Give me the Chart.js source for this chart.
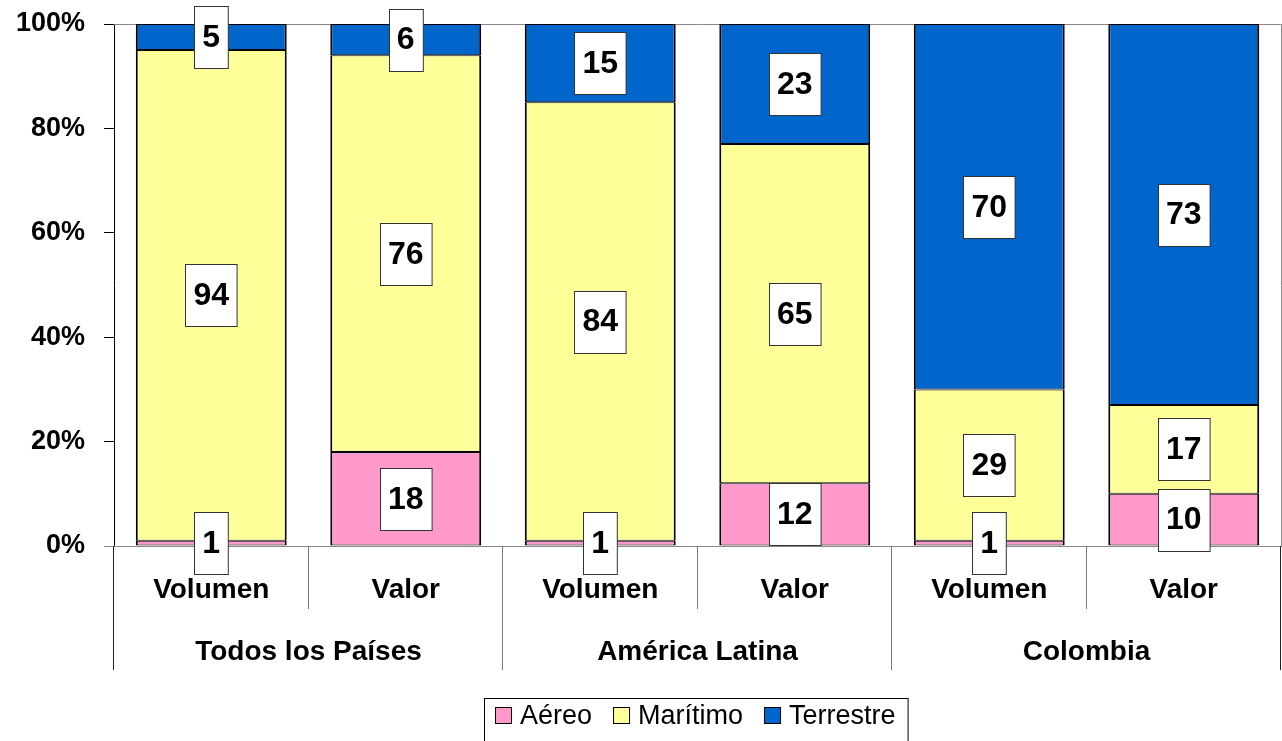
<!DOCTYPE html>
<html>
<head>
<meta charset="utf-8">
<script src="https://cdn.jsdelivr.net/npm/chart.js@4/dist/chart.umd.min.js"></script>
<style>
  html, body { margin: 0; padding: 0; background: #fff; }
</style>
</head>
<body>
<canvas id="chart" width="1282" height="741"></canvas>
<script>
// data
var categories = ['Volumen', 'Valor', 'Volumen', 'Valor', 'Volumen', 'Valor'];
var groups = ['Todos los Países', 'América Latina', 'Colombia'];
var aereo = [1, 18, 1, 12, 1, 10];
var maritimo = [94, 76, 84, 65, 29, 17];
var terrestre = [5, 6, 15, 23, 70, 73];
var yTicks = [0, 20, 40, 60, 80, 100];

var FONT = "'Liberation Sans', Arial, sans-serif";

// white boxes with the value in the middle of each segment
var valueLabels = {
  id: 'valueLabels',
  afterDatasetsDraw: function(chart) {
    var ctx = chart.ctx;
    ctx.save();
    ctx.font = 'bold 32px ' + FONT;
    ctx.textAlign = 'center';
    ctx.textBaseline = 'middle';
    chart.data.datasets.forEach(function(ds, di) {
      var meta = chart.getDatasetMeta(di);
      meta.data.forEach(function(bar, i) {
        var txt = String(ds.data[i]);
        var cy = (bar.y + bar.base) / 2;
        var w = ctx.measureText(txt).width + 16;
        var h = 62;
        var x0 = Math.round(bar.x - w / 2) + 0.5;
        var y0 = Math.round(cy - h / 2) + 0.5;
        ctx.fillStyle = '#fff';
        ctx.fillRect(x0, y0, w, h);
        ctx.strokeStyle = '#333';
        ctx.lineWidth = 1;
        ctx.strokeRect(x0, y0, w, h);
        ctx.fillStyle = '#000';
        ctx.fillText(txt, bar.x, cy + 1);
      });
    });
    ctx.restore();
  }
};

// plot border, two-level category axis and framed legend
var frame = {
  id: 'frame',
  beforeDatasetsDraw: function(chart) {
    var a = chart.chartArea;
    var ctx = chart.ctx;
    ctx.save();
    ctx.strokeStyle = '#888';
    ctx.lineWidth = 1;
    ctx.beginPath();
    ctx.moveTo(a.left, a.top + 0.5);
    ctx.lineTo(a.right + 0.5, a.top + 0.5);
    ctx.lineTo(a.right + 0.5, a.bottom + 0.5);
    ctx.lineTo(a.left - 10, a.bottom + 0.5);
    ctx.stroke();
    ctx.restore();
  },
  afterDraw: function(chart) {
    var ctx = chart.ctx;
    var xs = chart.scales.x;
    var a = chart.chartArea;
    var n = categories.length;
    var w = (xs.right - xs.left) / n;
    ctx.save();
    // separators
    for (var i = 0; i <= n; i++) {
      var x = Math.round(xs.left + i * w) - 0.5;
      var isGroup = i % 2 === 0;
      ctx.strokeStyle = (i === 0 || i === n) ? '#222' : '#777';
      ctx.lineWidth = 1;
      ctx.beginPath();
      ctx.moveTo(x, a.bottom);
      ctx.lineTo(x, isGroup ? 670 : 609);
      ctx.stroke();
    }
    ctx.fillStyle = '#000';
    ctx.textAlign = 'center';
    ctx.textBaseline = 'middle';
    ctx.font = 'bold 28px ' + FONT;
    categories.forEach(function(c, i) {
      ctx.fillText(c, xs.getPixelForValue(i), 590);
    });
    groups.forEach(function(g, gi) {
      var cx = (xs.getPixelForValue(gi * 2) + xs.getPixelForValue(gi * 2 + 1)) / 2;
      ctx.fillText(g, cx, 652);
    });

    // legend
    ctx.font = '27px ' + FONT;
    ctx.textAlign = 'left';
    var items = chart.data.datasets;
    var box = 16, gapText = 9, gapItem = 21;
    var total = 0;
    items.forEach(function(ds, i) {
      total += box + gapText + ctx.measureText(ds.label).width;
      if (i < items.length - 1) total += gapItem;
    });
    var lx = Math.round(695 - total / 2);
    ctx.strokeStyle = '#000';
    ctx.strokeRect(lx - 10.5, 698.5, total + 23, 60);
    var ly = 716;
    items.forEach(function(ds) {
      ctx.fillStyle = ds.backgroundColor;
      ctx.fillRect(lx + 0.5, ly - 8.5, box, box);
      ctx.strokeStyle = '#000';
      ctx.strokeRect(lx + 0.5, ly - 8.5, box, box);
      ctx.fillStyle = '#000';
      ctx.fillText(ds.label, lx + box + gapText, ly + 1);
      lx += box + gapText + ctx.measureText(ds.label).width + gapItem;
    });
    ctx.restore();
  }
};

var barBorder = { top: 1, bottom: 1, left: 2, right: 2 };

var chart = new Chart(document.getElementById('chart').getContext('2d'), {
  type: 'bar',
  data: {
    labels: categories,
    datasets: [
      { label: 'Aéreo', data: aereo, backgroundColor: '#FF99CC', borderColor: '#000', borderWidth: barBorder, borderSkipped: false },
      { label: 'Marítimo', data: maritimo, backgroundColor: '#FFFF99', borderColor: '#000', borderWidth: barBorder, borderSkipped: false },
      { label: 'Terrestre', data: terrestre, backgroundColor: '#0066CC', borderColor: '#000', borderWidth: barBorder, borderSkipped: false }
    ]
  },
  options: {
    responsive: false,
    animation: false,
    devicePixelRatio: 1,
    layout: { padding: { top: 24, right: 1, bottom: 0, left: 0 } },
    datasets: { bar: { categoryPercentage: 1, barPercentage: 0.776 } },
    plugins: {
      legend: { display: false },
      tooltip: { enabled: false }
    },
    scales: {
      x: {
        stacked: true,
        grid: { display: false },
        border: { display: false },
        ticks: { display: false },
        afterFit: function(s) { s.height = 195; s.paddingLeft = 0; s.paddingRight = 0; }
      },
      y: {
        stacked: true,
        min: 0,
        max: 100,
        afterBuildTicks: function(s) { s.ticks = yTicks.map(function(v) { return { value: v }; }); },
        ticks: {
          padding: 19,
          color: '#000',
          font: { family: FONT, size: 27, weight: 'bold' },
          callback: function(v) { return v + '%'; }
        },
        grid: { drawOnChartArea: false, drawTicks: true, tickLength: 10, tickColor: '#000' },
        border: { display: true, color: '#000', width: 1 },
        afterFit: function(s) { s.width = 114; s.paddingTop = 0; s.paddingBottom = 0; }
      }
    }
  },
  plugins: [frame, valueLabels]
});
</script>
</body>
</html>
